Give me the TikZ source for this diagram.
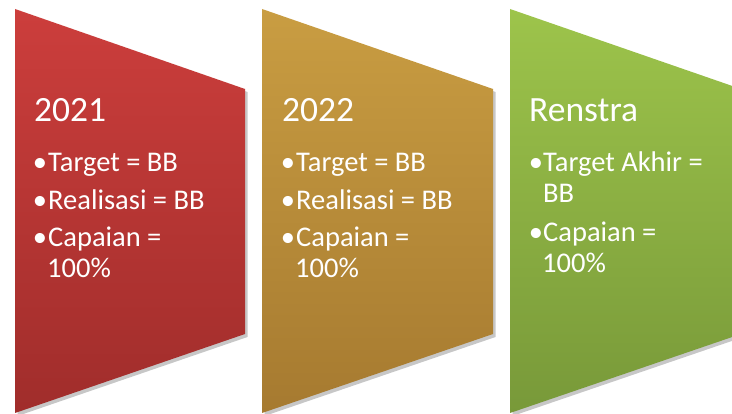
\documentclass[tikz,border=0pt]{standalone}
\usepackage{fontspec}
\setmainfont{Carlito}
\usetikzlibrary{shadows}
\definecolor{redtop}{RGB}{204,62,60}
\definecolor{redbot}{RGB}{160,45,43}
\definecolor{goldtop}{RGB}{201,157,66}
\definecolor{goldbot}{RGB}{166,122,48}
\definecolor{greentop}{RGB}{157,196,75}
\definecolor{greenbot}{RGB}{120,153,57}
\tikzset{
  panel/.style={draw=none, drop shadow={shadow xshift=2.5pt, shadow yshift=-3pt, fill=black, opacity=0.22}},
  heading/.style={anchor=base west, inner sep=0pt, text=white, font=\fontsize{35.5}{42}\selectfont},
  item/.style={anchor=base west, inner sep=0pt, text=white, font=\fontsize{28.5}{34}\selectfont},
  bul/.style={anchor=base, inner sep=0pt, text=white, font=\fontsize{28.5}{34}\selectfont}
}
\begin{document}
\begin{tikzpicture}[x=1pt,y=-1pt]
\useasboundingbox[fill=white] (0,0) rectangle (732,414);
\begin{scope}
\clip (0,0) rectangle (732,414);
% panels
\path[panel, top color=redtop, bottom color=redbot] (15,9) -- (245,89) -- (245,334) -- (15,413) -- cycle;
\path[panel, top color=goldtop, bottom color=goldbot] (262,9) -- (493,89) -- (493,334) -- (262,413) -- cycle;
\path[panel, top color=greentop, bottom color=greenbot] (510,9) -- (741,89) -- (741,334) -- (510,413) -- cycle;
\end{scope}
% red panel text
\node[heading] (h1) at (34,122) {2021};
\node[bul] (b11) at (40,172) {•};
\node[item] (t11) at (48,172) {Target = BB};
\node[bul] (b12) at (40,210) {•};
\node[item] (t12) at (48,210) {Realisasi = BB};
\node[bul] (b13) at (40,247) {•};
\node[item] (t13) at (48,247) {Capaian =};
\node[item] (t13b) at (47,278) {100\%};
% gold panel text
\node[heading] (h2) at (282,122) {2022};
\node[bul] (b21) at (288,172) {•};
\node[item] (t21) at (296,172) {Target = BB};
\node[bul] (b22) at (288,210) {•};
\node[item] (t22) at (296,210) {Realisasi = BB};
\node[bul] (b23) at (288,247) {•};
\node[item] (t23) at (296,247) {Capaian =};
\node[item] (t23b) at (295,278) {100\%};
% green panel text
\node[heading] (h3) at (529,122) {Renstra};
\node[bul] (b31) at (536,172) {•};
\node[item] (t31) at (543,172) {Target Akhir =};
\node[item] (t31b) at (543,203) {BB};
\node[bul] (b32) at (536,242) {•};
\node[item] (t32) at (543,242) {Capaian =};
\node[item] (t32b) at (542,273) {100\%};
\end{tikzpicture}
\end{document}
